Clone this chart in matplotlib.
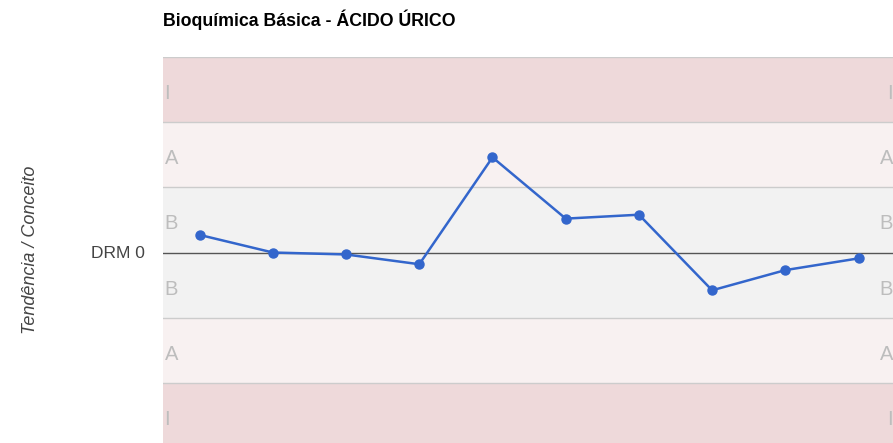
import matplotlib
matplotlib.use("Agg")
import matplotlib.pyplot as plt

plt.rcParams['font.family'] = ['Liberation Sans', 'DejaVu Sans']

title = "Bioquímica Básica - ÁCIDO ÚRICO"
ylabel = "Tendência / Conceito"
center_label = "DRM 0"
values = [0.27, 0.0, -0.03, -0.18, 1.46, 0.52, 0.58, -0.58, -0.27, -0.09]
band_edges = [-3, -2, -1, 0, 1, 2, 3]
band_labels = ["I", "A", "B", "B", "A", "I"]
band_colors = ["#eed9da", "#f8f1f1", "#f2f2f2", "#f2f2f2", "#f8f1f1", "#eed9da"]

W, H = 893, 443
fig = plt.figure(figsize=(W / 100, H / 100), dpi=100)
left = 163 / W
top = (H - 57) / H
ax = fig.add_axes([left, 0.0, 1.0 - left, top])

ymin, ymax = -190 / 65.0, 3.0
ax.set_ylim(ymin, ymax)
ax.set_xlim(-0.5, 9.47)

for lo, hi, c in zip(band_edges[:-1], band_edges[1:], band_colors):
    ax.axhspan(lo, hi, color=c, zorder=0, lw=0)
for e in band_edges:
    if e == 0:
        ax.axhline(e, color="#555555", lw=1.0, zorder=1)
    else:
        ax.axhline(e, color="#cccccc", lw=1.0, zorder=1)

# band labels
for lo, hi, lab in zip(band_edges[:-1], band_edges[1:], band_labels):
    yc = (lo + hi) / 2 - 0.06
    ax.text(0.002, yc, lab, transform=ax.get_yaxis_transform(), ha="left",
            va="center", fontsize=14.5, color="#bdbdbd", zorder=2)
    ax.text(1.0, yc, lab, transform=ax.get_yaxis_transform(), ha="right",
            va="center", fontsize=14.5, color="#bdbdbd", zorder=2)

x = list(range(len(values)))
ax.plot(x, values, color="#3366cc", lw=1.8, marker="o", markersize=6.5,
        zorder=3, solid_joinstyle="round")

for s in ax.spines.values():
    s.set_visible(False)
ax.set_xticks([])
ax.set_yticks([])

fig.text(163 / W, 1 - 20 / H, title, ha="left", va="center",
         fontsize=12.8, fontweight="bold", color="#000000")
fig.text(145 / W, 1 - 253 / H, center_label, ha="right", va="center",
         fontsize=12.5, color="#444444")
fig.text(31 / W, 1 - 250 / H, ylabel, ha="center", va="center",
         rotation=90, fontsize=13, style="italic", color="#444444")

fig.savefig("out.png", dpi=100)
